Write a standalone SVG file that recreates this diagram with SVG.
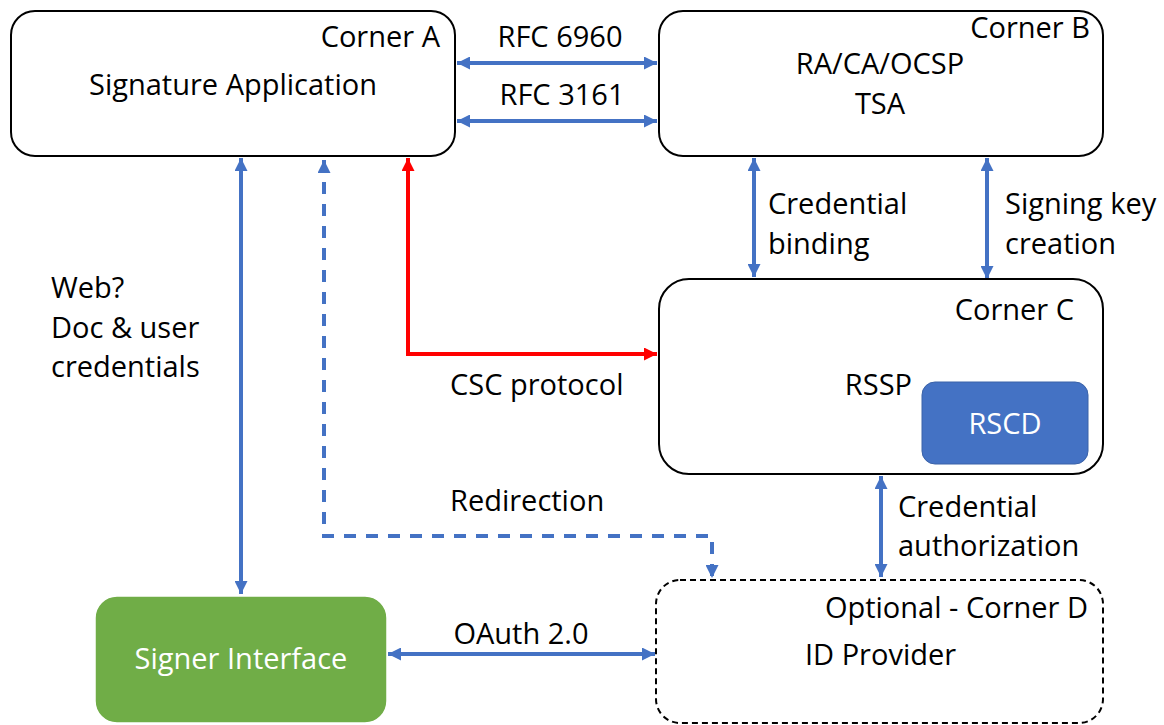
<svg xmlns="http://www.w3.org/2000/svg" width="1164" height="725" viewBox="0 0 1164 725">
<defs>
<style>
text{font-family:"Open Sans","Noto Sans","Liberation Sans",sans-serif;font-size:29px;fill:#000}
.box{fill:#fff;stroke:#000;stroke-width:2}
.dbox{fill:#fff;stroke:#000;stroke-width:2;stroke-dasharray:6 4}
.blue{fill:none;stroke:#4472C4;stroke-width:4}
.red{fill:none;stroke:#FF0000;stroke-width:4}
.w{fill:#fff}
</style>
<marker id="ab" viewBox="0 0 10 10" refX="10" refY="5" markerUnits="userSpaceOnUse" markerWidth="13" markerHeight="13" orient="auto-start-reverse"><path d="M0,0 L10,5 L0,10 z" fill="#4472C4"/></marker>
<marker id="ar" viewBox="0 0 10 10" refX="10" refY="5" markerUnits="userSpaceOnUse" markerWidth="13" markerHeight="13" orient="auto-start-reverse"><path d="M0,0 L10,5 L0,10 z" fill="#FF0000"/></marker>
</defs>
<g id="connectors">
<path class="blue" d="M457,63 H657" marker-start="url(#ab)" marker-end="url(#ab)"/>
<path class="blue" d="M457,121 H657" marker-start="url(#ab)" marker-end="url(#ab)"/>
<path class="blue" d="M241,158 V594" marker-start="url(#ab)" marker-end="url(#ab)"/>
<path class="blue" d="M324,160 V536 H712 V578" stroke-dasharray="12 10" marker-start="url(#ab)" marker-end="url(#ab)"/>
<path class="red" d="M408,158 V354 H657" marker-start="url(#ar)" marker-end="url(#ar)"/>
<path class="blue" d="M754,158 V277" marker-start="url(#ab)" marker-end="url(#ab)"/>
<path class="blue" d="M987,158 V279" marker-start="url(#ab)" marker-end="url(#ab)"/>
<path class="blue" d="M881,476 V577" marker-start="url(#ab)" marker-end="url(#ab)"/>
<path class="blue" d="M388,654 H655" marker-start="url(#ab)" marker-end="url(#ab)"/>
<text x="560" y="47" text-anchor="middle">RFC 6960</text>
<text x="562" y="105" text-anchor="middle">RFC 3161</text>
<text x="768" y="214">Credential</text>
<text x="768" y="254">binding</text>
<text x="1005" y="214">Signing key</text>
<text x="1005" y="254">creation</text>
<text x="51" y="298">Web?</text>
<text x="51" y="338">Doc &amp; user</text>
<text x="51" y="377">credentials</text>
<text x="450" y="395">CSC protocol</text>
<text x="450" y="511">Redirection</text>
<text x="898" y="517">Credential</text>
<text x="898" y="556">authorization</text>
<text x="521" y="644" text-anchor="middle">OAuth 2.0</text>
</g>
<g id="cornerA">
<rect class="box" x="11" y="11" width="444" height="145" rx="24"/>
<text x="440" y="47" text-anchor="end">Corner A</text>
<text x="233" y="95" text-anchor="middle">Signature Application</text>
</g>
<g id="cornerB">
<rect class="box" x="659" y="11" width="444" height="145" rx="24"/>
<text x="1090" y="38" text-anchor="end">Corner B</text>
<text x="880" y="74" text-anchor="middle">RA/CA/OCSP</text>
<text x="880" y="114" text-anchor="middle">TSA</text>
</g>
<g id="cornerC">
<rect class="box" x="659" y="279" width="444" height="195" rx="30"/>
<text x="1074" y="320" text-anchor="end">Corner C</text>
<text x="912" y="395" text-anchor="end">RSSP</text>
</g>
<g id="rscd">
<rect x="922" y="382" width="166" height="82" rx="13" fill="#4472C4" stroke="#3a62a8" stroke-width="1"/>
<text class="w" x="1005" y="434" text-anchor="middle">RSCD</text>
</g>
<g id="cornerD">
<rect class="dbox" x="656" y="580" width="447" height="143" rx="24"/>
<text x="1088" y="618" text-anchor="end">Optional - Corner D</text>
<text x="805" y="665">ID Provider</text>
</g>
<g id="signer">
<rect x="95" y="596" width="292" height="127" rx="22" fill="#70AD47" stroke="#fff" stroke-width="1.5"/>
<text class="w" x="241" y="669" text-anchor="middle">Signer Interface</text>
</g>
</svg>
